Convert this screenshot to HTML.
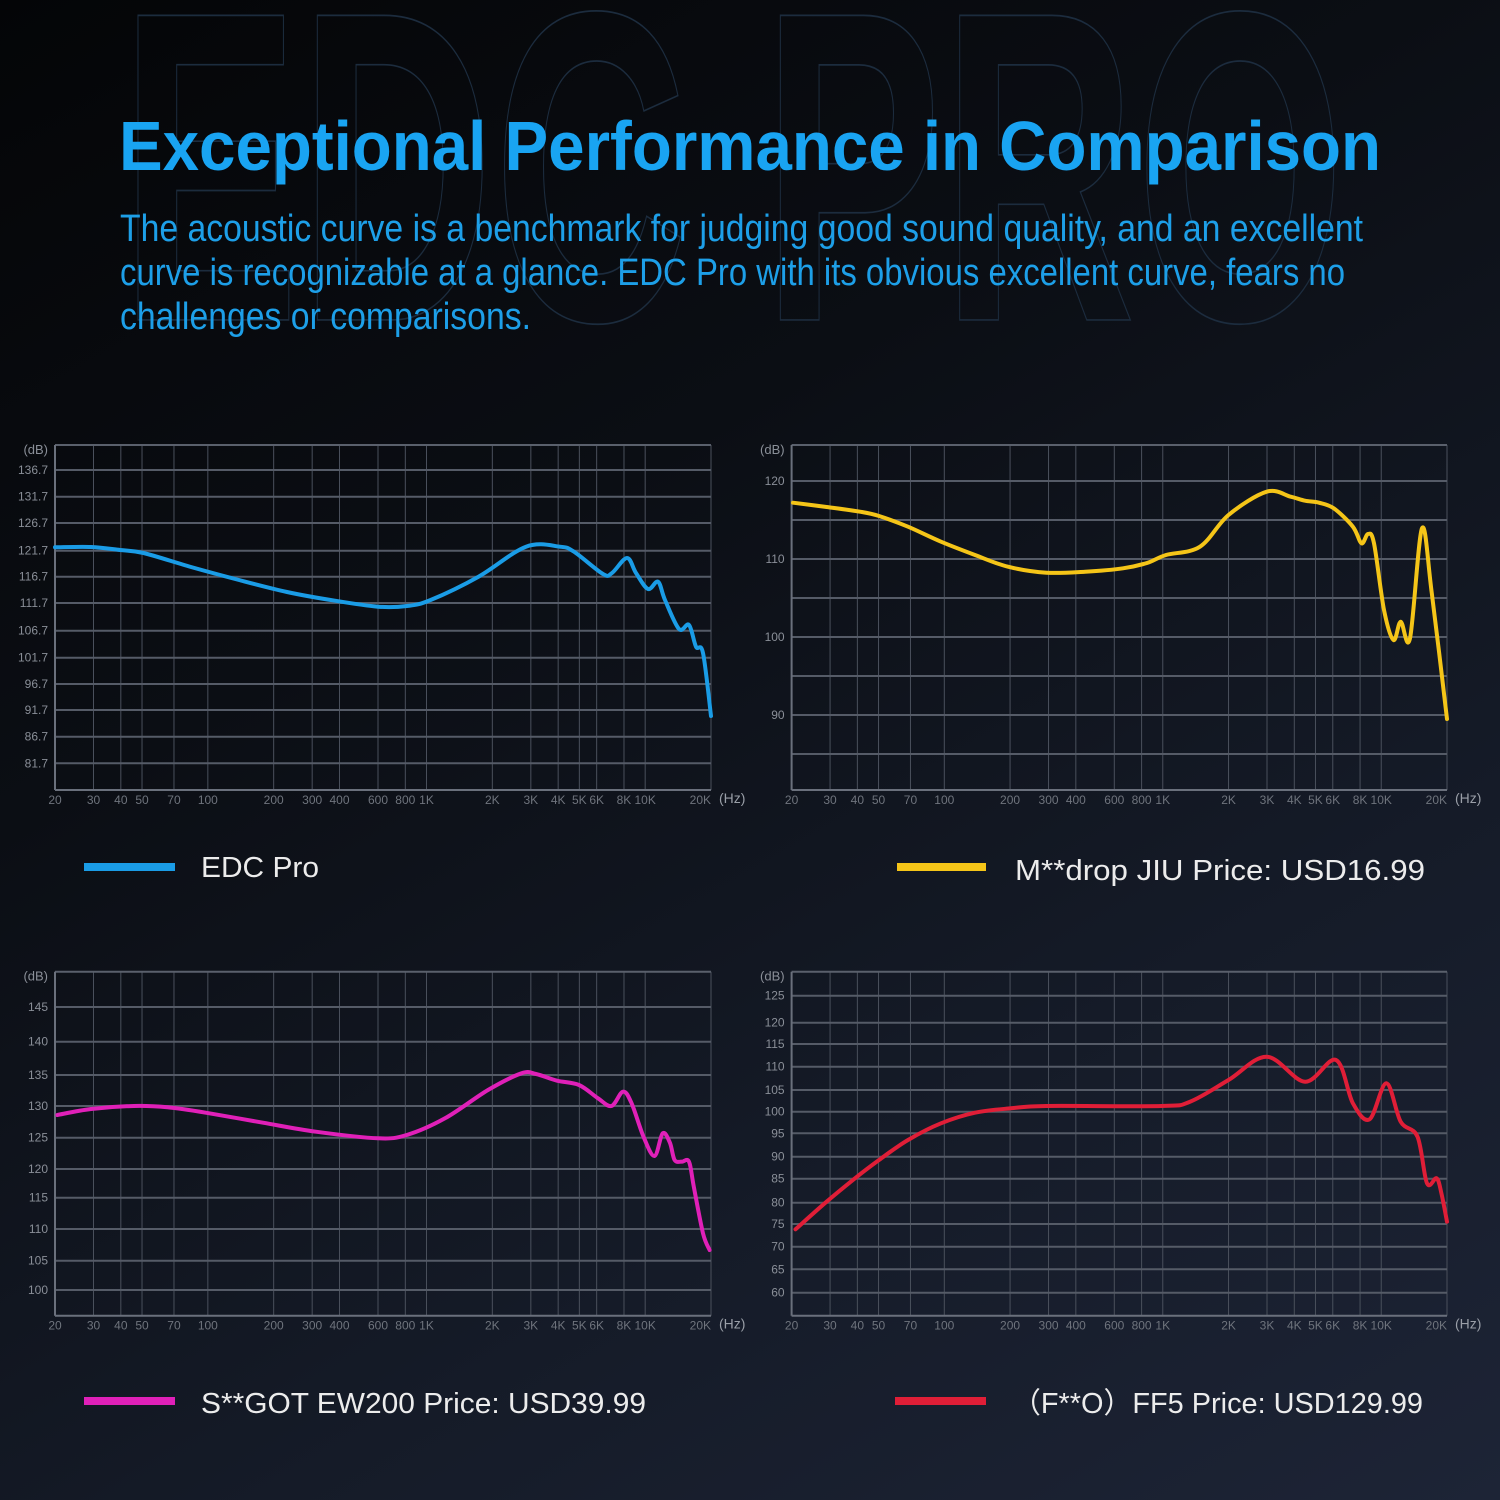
<!DOCTYPE html>
<html><head><meta charset="utf-8"><style>
html,body{margin:0;padding:0;}
body{width:1500px;height:1500px;overflow:hidden;background:linear-gradient(150deg,#040507 0%,#0b0e14 35%,#151b28 70%,#1d2436 100%);}
svg{display:block}
</style></head><body>
<svg id="s" width="1500" height="1500" xmlns="http://www.w3.org/2000/svg" font-family="Liberation Sans, sans-serif">
<text transform="translate(0,-41) scale(1,1.135)" x="120" y="318" font-size="390" font-weight="bold" fill="none" stroke="#1c2c3e" stroke-width="1.5" textLength="1225" lengthAdjust="spacingAndGlyphs">EDC PRO</text>
<text x="119" y="170" font-size="70" font-weight="bold" fill="#19a4f2" textLength="1262" lengthAdjust="spacingAndGlyphs">Exceptional Performance in Comparison</text>
<g font-size="38" fill="#1d9fe8">
<text x="120" y="241" textLength="1243" lengthAdjust="spacingAndGlyphs">The acoustic curve is a benchmark for judging good sound quality, and an excellent</text>
<text x="120" y="285" textLength="1225" lengthAdjust="spacingAndGlyphs">curve is recognizable at a glance. EDC Pro with its obvious excellent curve, fears no</text>
<text x="120" y="329" textLength="411" lengthAdjust="spacingAndGlyphs">challenges or comparisons.</text>
</g>
<g font-size="29" fill="#ececec">
<rect x="84" y="863" width="91" height="8" fill="#1a9ce6"/>
<text x="201" y="877" textLength="118" lengthAdjust="spacingAndGlyphs">EDC Pro</text>
<rect x="897" y="863" width="89" height="8" fill="#f5c518"/>
<text x="1015" y="880" textLength="410" lengthAdjust="spacingAndGlyphs">M**drop JIU Price: USD16.99</text>
<rect x="84" y="1397" width="91" height="8" fill="#e020b8"/>
<text x="201" y="1413" textLength="445" lengthAdjust="spacingAndGlyphs">S**GOT EW200 Price: USD39.99</text>
<rect x="895" y="1397" width="91" height="8" fill="#e01e37"/>
<text x="1012" y="1413" font-family="Liberation Sans, Noto Sans CJK SC, sans-serif" textLength="411" lengthAdjust="spacingAndGlyphs">（F**O）FF5 Price: USD129.99</text>
</g>
<g id="g"></g>
</svg>
<script>
var NS="http://www.w3.org/2000/svg",G=document.getElementById('g');
function el(t,a,txt){var e=document.createElementNS(NS,t);for(var k in a)e.setAttribute(k,a[k]);if(txt!==undefined)e.textContent=txt;G.appendChild(e);return e;}
var freqs=[30,40,50,70,100,200,300,400,600,800,1000,2000,3000,4000,5000,6000,8000,10000,20000];
var fl=[[20,"20"],[30,"30"],[40,"40"],[50,"50"],[70,"70"],[100,"100"],[200,"200"],[300,"300"],[400,"400"],[600,"600"],[800,"800"],[1000,"1K"],[2000,"2K"],[3000,"3K"],[4000,"4K"],[5000,"5K"],[6000,"6K"],[8000,"8K"],[10000,"10K"],[20000,"20K"]];
function chart(x0,x1,y0,y1,ylines,color,pts){
 function fx(f){return x0+(x1-x0)*Math.log10(f/20)/3;}
 for(var i=0;i<freqs.length;i++){var x=fx(freqs[i]);el('line',{x1:x,y1:y0,x2:x,y2:y1,stroke:'#4a505c','stroke-width':1});}
 el('line',{x1:x0,y1:y0,x2:x1,y2:y0,stroke:'#5a606c','stroke-width':2});
 for(var i=0;i<ylines.length;i++){var y=ylines[i][0];el('line',{x1:x0,y1:y,x2:x1,y2:y,stroke:'#555b67','stroke-width':2});
  if(ylines[i][1])el('text',{x:x0-7,y:y+4,'font-size':12,fill:'#8a8f98','text-anchor':'end'},ylines[i][1]);}
 el('line',{x1:x0,y1:y1,x2:x1,y2:y1,stroke:'#6a707c','stroke-width':2});
 el('line',{x1:x0,y1:y0,x2:x0,y2:y1,stroke:'#6a707c','stroke-width':2});
 el('text',{x:x0-7,y:y0+9,'font-size':13,fill:'#8a8f98','text-anchor':'end'},'(dB)');
 for(var i=0;i<fl.length;i++){var x=fx(fl[i][0]);el('text',{x:x,y:y1+14,'font-size':12,fill:'#6f747d','text-anchor':(i==fl.length-1?'end':'middle')},fl[i][1]);}
 el('text',{x:x1+8,y:y1+13,'font-size':14,fill:'#9a9fa8'},'(Hz)');
 var d='M'+pts[0][0]+','+pts[0][1];
 for(var i=0;i<pts.length-1;i++){var p0=pts[i-1]||pts[i],p1=pts[i],p2=pts[i+1],p3=pts[i+2]||p2;
  var c1=[p1[0]+(p2[0]-p0[0])/6,p1[1]+(p2[1]-p0[1])/6],c2=[p2[0]-(p3[0]-p1[0])/6,p2[1]-(p3[1]-p1[1])/6];
  d+=' C'+c1[0].toFixed(1)+','+c1[1].toFixed(1)+' '+c2[0].toFixed(1)+','+c2[1].toFixed(1)+' '+p2[0]+','+p2[1];}
 el('path',{d:d,fill:'none',stroke:color,'stroke-width':4,'stroke-linecap':'round','stroke-linejoin':'round'});
}
chart(55,711,445,790,[[470,'136.7'],[496.7,'131.7'],[523,'126.7'],[550.7,'121.7'],[576.7,'116.7'],[603,'111.7'],[630.7,'106.7'],[657.7,'101.7'],[684,'96.7'],[710,'91.7'],[736.7,'86.7'],[763.3,'81.7']],'#1a9ce6',
[[55,547.3],[91,547],[120,550],[143.5,553],[191,567],[239,580],[287,592],[335,600.7],[378,606.7],[407,606],[430.6,600],[478.5,576.7],[526,546.7],[560,546.7],[574,551.7],[603,574],[612,573],[627,558],[636,573],[648,589],[658,581.7],[665,600],[679,629],[689,625],[696,646.7],[703,653],[711,716]]);
chart(791.6,1447,445,790,[[481,'120'],[520,''],[559,'110'],[598,''],[637,'100'],[676,''],[715,'90'],[754,'']],'#f5c518',
[[793,502.7],[826.6,507],[860,511.7],[879,516],[908,526.7],[941,541.7],[975,555],[1008,566.7],[1046.6,572.7],[1085,571.7],[1123,568.3],[1147,563],[1166,555],[1200,546.7],[1228.5,515],[1266.7,491.7],[1290.7,496.7],[1305,500.7],[1319,502.7],[1333.7,508.3],[1352.9,526.7],[1361.5,543.3],[1368,534],[1374,543.3],[1384,610],[1393.5,640],[1400.7,621.7],[1410,638.3],[1422,528.3],[1431.8,593.3],[1447,719]]);
chart(55,711,971.7,1315.7,[[1007,'145'],[1041.7,'140'],[1075,'135'],[1106,'130'],[1137.7,'125'],[1169,'120'],[1197.7,'115'],[1229,'110'],[1260.7,'105'],[1290,'100']],'#e020b8',
[[57.4,1115],[91,1109],[134,1106],[167.5,1107.3],[205.7,1112.7],[263,1122.7],[315.8,1131.7],[378,1138.3],[406.7,1135],[445,1118.3],[488,1090],[521.5,1073.3],[536,1074],[557,1080.7],[579,1085],[598,1098.3],[611.5,1106],[623,1091.7],[631.6,1103.3],[643.5,1136.7],[654.5,1156],[662.7,1133.3],[669.9,1142.7],[674.6,1160],[681.8,1161.7],[689,1161.7],[693.8,1186.7],[703,1233.3],[709.6,1250]]);
chart(791.6,1447,971.7,1315.7,[[995.7,'125'],[1022.7,'120'],[1044,'115'],[1066.7,'110'],[1090,'105'],[1111.7,'100'],[1133.3,'95'],[1156.7,'90'],[1178.7,'85'],[1202.7,'80'],[1224,'75'],[1246.7,'70'],[1269.3,'65'],[1292.7,'60']],'#e01e37',
[[795.5,1229.3],[826.6,1201.7],[855,1178.3],[879,1160],[908,1140],[941,1123.3],[975,1112.7],[1010.8,1108.3],[1046.6,1106],[1161.5,1106],[1190,1101.7],[1228.5,1080],[1266.7,1056.7],[1305,1081.7],[1336,1060],[1352.9,1103.3],[1369.6,1119.3],[1386.4,1083.3],[1400.7,1121.7],[1417.5,1136.7],[1427,1183.3],[1436.6,1178.3],[1441.4,1193.3],[1447,1221.7]]);
</script>
</body></html>
